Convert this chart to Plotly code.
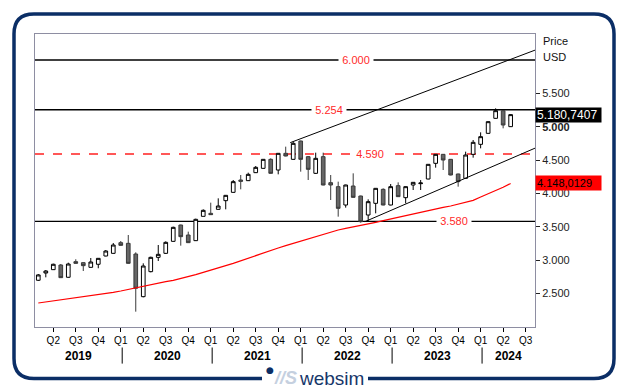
import plotly.graph_objects as go
import pandas as pd

# ---------------- data ----------------
months = pd.period_range("2019-02", "2024-05", freq="M").strftime("%Y-%m").tolist()
axis_months = pd.period_range("2019-02", "2024-07", freq="M")

opens = [2696, 2805, 2855, 2925, 2741, 2975, 2960, 2890, 2936, 3060, 3100,
         3260, 3250, 3090, 2450, 2825, 3040, 3100, 3280, 3525, 3375, 3290, 3655,
         3700, 3760, 3890, 4015, 4200, 4190, 4310, 4375, 4510, 4350, 4600, 4510,
         4785, 4550, 4300, 4550, 4160, 4100, 3825, 4110, 3960, 3675, 3850, 4060,
         3825, 4115, 3935, 4125, 4145, 4215, 4450, 4585, 4510, 4290, 4225, 4585,
         4735, 4900, 5125, 5240, 5000]
highs = [2790, 2850, 2945, 2940, 2960, 3011, 2965, 3030, 3030, 3150, 3255,
         3285, 3375, 3115, 2950, 3050, 3225, 3280, 3500, 3530, 3425, 3620, 3760,
         3860, 3925, 3975, 4200, 4275, 4310, 4410, 4515, 4525, 4605, 4700, 4775,
         4790, 4560, 4610, 4610, 4275, 4175, 4130, 4300, 3965, 3910, 4080, 4075,
         4140, 4165, 4105, 4170, 4200, 4440, 4590, 4590, 4515, 4295, 4625, 4800,
         4915, 5080, 5275, 5250, 5185]
lows = [2685, 2740, 2850, 2730, 2735, 2945, 2835, 2885, 2876, 3055, 3095,
        3215, 2945, 2225, 2440, 2815, 2985, 3090, 3275, 3215, 3255, 3285, 3655,
        3675, 3755, 3760, 4010, 4060, 4185, 4305, 4370, 4295, 4285, 4555, 4505,
        4325, 4200, 4290, 4120, 3900, 3650, 3785, 3935, 3560, 3575, 3700, 3820,
        3820, 3945, 3850, 4050, 4050, 4210, 4385, 4350, 4270, 4100, 4220, 4535,
        4675, 4895, 5120, 4975, 4995]
closes = [2776, 2835, 2936, 2735, 2940, 2950, 2915, 2970, 3025, 3135, 3225,
          3220, 2950, 2576, 2910, 3040, 3085, 3265, 3490, 3350, 3260, 3610, 3745,
          3680, 3810, 3970, 4175, 4180, 4285, 4390, 4510, 4300, 4600, 4560, 4750,
          4510, 4360, 4525, 4125, 4125, 3775, 4125, 3940, 3575, 3875, 4075, 3825,
          4100, 3950, 4100, 4165, 4155, 4435, 4585, 4500, 4275, 4175, 4575, 4765,
          4850, 5075, 5240, 5025, 5180.7407]
ma = [2355, 2370, 2385, 2400, 2415, 2430, 2445, 2460, 2475, 2495, 2515,
      2535, 2560, 2585, 2605, 2630, 2650, 2675, 2695, 2720, 2750, 2780, 2815,
      2845, 2880, 2915, 2950, 2990, 3030, 3070, 3110, 3145, 3180, 3215, 3250,
      3285, 3320, 3355, 3390, 3420, 3450, 3475, 3495, 3515, 3535, 3565, 3590,
      3615, 3645, 3675, 3700, 3720, 3745, 3765, 3790, 3810, 3835, 3860, 3895,
      3945, 3990, 4040, 4090, 4148.0129]

levels = [6000, 5254, 4590, 3580]
level_labels = ["6.000", "5.254", "4.590", "3.580"]
level_label_pos = [42.4, 38.8, 44.2, 55.4]   # month-index where the label sits
upper_trend_x = [33.6, 66.3]
upper_trend_y = [4760, 6150]
lower_trend_x = [43.56, 66.3]
lower_trend_y = [3575, 4680]

y_tick_vals = [2500, 3000, 3500, 4000, 4500, 5000, 5500]
y_tick_text = ["2.500", "3.000", "3.500", "4.000", "4.500", "<b>5.000</b>", "5.500"]
years = ["2019", "2020", "2021", "2022", "2023", "2024"]

# ---------------- layout helpers ----------------
W, H = 630, 392
L, R, T, B = 35, 95, 34, 65
PW, PH = W - L - R, H - T - B
XR = [-0.44, 66.25]
YR = [1995, 6390]
FONT = "Liberation Sans, Arial, sans-serif"
NAVY = "#0b2e66"


def px(x):
    return (x - L) / PW


def py(y):
    return (H - B - y) / PH


def xi_to_paper(i):
    return (i - XR[0]) / (XR[1] - XR[0])


def fmt(v):
    s = f"{v:,.4f}"
    return s.replace(",", "X").replace(".", ",").replace("X", ".")


xi = list(range(len(months)))

fig = go.Figure()

fig.add_trace(go.Scatter(x=xi, y=ma, mode="lines",
                         line=dict(color="#ff0000", width=1.2),
                         hoverinfo="skip", showlegend=False))

fig.add_trace(go.Candlestick(
    x=xi, open=opens, high=highs, low=lows, close=closes,
    increasing=dict(line=dict(color="#000000", width=1), fillcolor="#ffffff"),
    decreasing=dict(line=dict(color="#3a3a3a", width=1), fillcolor="#666666"),
    whiskerwidth=0, hoverinfo="skip", showlegend=False))

shapes = []
annotations = []

# horizontal levels
for v, lab, pos in zip(levels, level_labels, level_label_pos):
    dashed = (lab == "4.590")
    shapes.append(dict(type="line", xref="paper", yref="y", x0=0, x1=1, y0=v, y1=v,
                       line=dict(color="#ff2020" if dashed else "#000000",
                                 width=1.3, dash="dash" if dashed else "solid"),
                       layer="below"))
    annotations.append(dict(x=pos, y=v, xref="x", yref="y", text=lab, showarrow=False,
                            font=dict(family=FONT, size=11, color="#ff2a2a"),
                            bgcolor="#ffffff", width=34, height=10, borderpad=0,
                            xanchor="center", yanchor="middle"))

# trend lines
for xs, ys in [(upper_trend_x, upper_trend_y), (lower_trend_x, lower_trend_y)]:
    shapes.append(dict(type="line", xref="x", yref="y", x0=xs[0], x1=xs[1], y0=ys[0], y1=ys[1],
                       line=dict(color="#000000", width=1), layer="above"))

# x ticks
tickvals, ticktext = [], []
for i, p in enumerate(axis_months):
    if p.month in (1, 4, 7, 10):
        tickvals.append(i)
        ticktext.append(f"Q{(p.month - 1) // 3 + 1}")

# year separators and labels
seps = [i + 0.19 for i, p in enumerate(axis_months) if p.month == 1]
bounds = [XR[0]] + seps + [XR[1]]
for k, yr in enumerate(years):
    c = (bounds[k] + bounds[k + 1]) / 2
    annotations.append(dict(x=xi_to_paper(c), y=py(355.5), xref="paper", yref="paper",
                            text=f"<b>{yr}</b>", showarrow=False,
                            font=dict(family=FONT, size=12, color="#000000"),
                            xanchor="center", yanchor="middle"))
for s in seps:
    xp = xi_to_paper(s)
    shapes.append(dict(type="line", xref="paper", yref="paper", x0=xp, x1=xp,
                       y0=py(347.5), y1=py(363.6), line=dict(color="#000000", width=1)))

# Price / USD labels
annotations.append(dict(x=px(541), y=py(41), xref="paper", yref="paper", text="Price",
                        showarrow=False, xanchor="left", yanchor="middle",
                        font=dict(family=FONT, size=11, color="#111111")))
annotations.append(dict(x=px(541), y=py(57), xref="paper", yref="paper", text="USD",
                        showarrow=False, xanchor="left", yanchor="middle",
                        font=dict(family=FONT, size=11, color="#111111")))

# value badges
annotations.append(dict(x=1, y=closes[-1], xref="paper", yref="y", text=fmt(closes[-1]),
                        showarrow=False, xanchor="left", yanchor="middle", align="left",
                        bgcolor="#000000", width=63, height=12, borderpad=1,
                        font=dict(family=FONT, size=12, color="#ffffff")))
annotations.append(dict(x=1, y=ma[-1], xref="paper", yref="y", text=fmt(ma[-1]),
                        showarrow=False, xanchor="left", yanchor="middle", align="left",
                        bgcolor="#ff0000", width=63, height=12, borderpad=1,
                        font=dict(family=FONT, size=11, color="#000000")))

# outer rounded frame with gap for the logo
r = 20
x0f, x1f, y0f, y1f = 14, 614, 14, 378.5
pts = [
    ("M", 262, y1f), ("L", x0f + r, y1f), ("Q", x0f, y1f, x0f, y1f - r),
    ("L", x0f, y0f + r), ("Q", x0f, y0f, x0f + r, y0f),
    ("L", x1f - r, y0f), ("Q", x1f, y0f, x1f, y0f + r),
    ("L", x1f, y1f - r), ("Q", x1f, y1f, x1f - r, y1f), ("L", 368, y1f),
]
path = ""
for p in pts:
    cmd, coords = p[0], p[1:]
    parts = []
    for j in range(0, len(coords), 2):
        parts.append(f"{px(coords[j]):.5f},{py(coords[j + 1]):.5f}")
    path += cmd + " ".join(parts) + " "
shapes.append(dict(type="path", xref="paper", yref="paper", path=path,
                   line=dict(color=NAVY, width=3.5)))

# logo
annotations.append(dict(x=px(270), y=py(370.5), xref="paper", yref="paper", text="●",
                        showarrow=False, font=dict(family="DejaVu Sans", size=9, color=NAVY),
                        xanchor="center", yanchor="middle"))
annotations.append(dict(x=px(285.5), y=py(377.5), xref="paper", yref="paper",
                        text="<b><i>//S</i></b>", showarrow=False,
                        font=dict(family=FONT, size=18, color="#c5d0df"),
                        xanchor="center", yanchor="middle"))
annotations.append(dict(x=px(331), y=py(378), xref="paper", yref="paper", text="websim",
                        showarrow=False, font=dict(family=FONT, size=19, color="#17376a"),
                        xanchor="center", yanchor="middle"))

fig.update_layout(
    width=W, height=H, autosize=False,
    margin=dict(l=L, r=R, t=T, b=B, pad=0),
    paper_bgcolor="#ffffff", plot_bgcolor="#ffffff",
    showlegend=False, hovermode=False,
    shapes=shapes, annotations=annotations,
    font=dict(family=FONT, color="#000000"),
    xaxis=dict(type="linear", range=XR, rangeslider=dict(visible=False),
               showgrid=False, zeroline=False, showline=True, mirror=True,
               linecolor="#8e8ea2", linewidth=1,
               tickvals=tickvals, ticktext=ticktext, ticks="outside", ticklen=4,
               tickcolor="#000000", tickfont=dict(family=FONT, size=10, color="#000000")),
    yaxis=dict(range=YR, side="right", showgrid=False, zeroline=False,
               showline=True, mirror=True, linecolor="#8e8ea2", linewidth=1,
               tickvals=y_tick_vals, ticktext=y_tick_text, ticks="outside", ticklen=4,
               tickcolor="#222222", tickfont=dict(family=FONT, size=11, color="#222222")),
)

fig.write_html("out.html", config={"displayModeBar": False, "staticPlot": True},
               post_script="document.body.style.margin='0';document.body.style.overflow='hidden';")
